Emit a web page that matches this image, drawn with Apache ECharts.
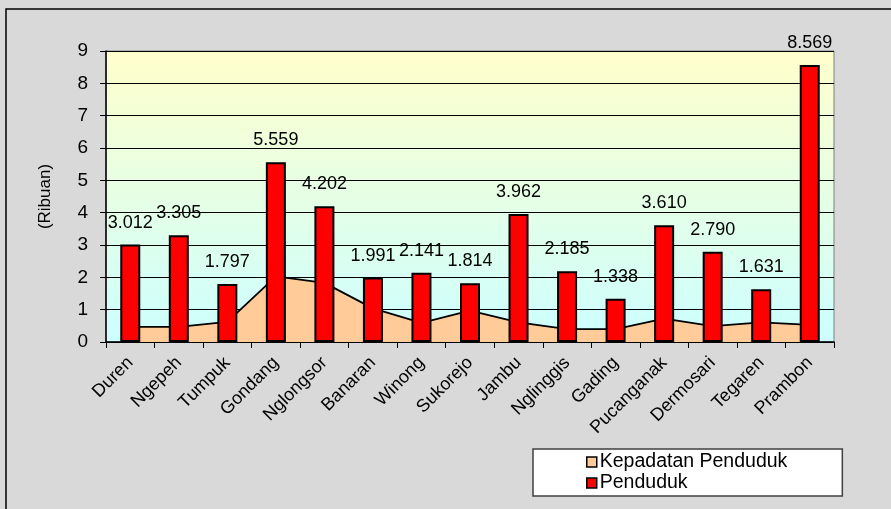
<!DOCTYPE html>
<html>
<head>
<meta charset="utf-8">
<script src="https://cdn.jsdelivr.net/npm/echarts@6/dist/echarts.min.js"></script>
<style>
    html, body { margin: 0; padding: 0; background: #d9d9d9; }
    #chart { width: 891px; height: 509px; }
</style>
</head>
<body>
<div id="chart"></div>
<script>
// kecamatan / desa
const categories = [
    "Duren", "Ngepeh", "Tumpuk", "Gondang", "Nglongsor", "Banaran", "Winong", "Sukorejo",
    "Jambu", "Nglinggis", "Gading", "Pucanganak", "Dermosari", "Tegaren", "Prambon",
]
// jumlah penduduk (ribuan)
const penduduk = [3.012, 3.305, 1.797, 5.559, 4.202, 1.991, 2.141, 1.814, 3.962, 2.185, 1.338, 3.61, 2.79, 1.631, 8.569]
// kepadatan penduduk
const kepadatan = [0.47, 0.47, 0.62, 2.03, 1.83, 1.04, 0.59, 0.97, 0.61, 0.4, 0.4, 0.72, 0.49, 0.61, 0.53]
const yTicks = { min: 0, max: 9, interval: 1 }

const font = "Liberation Sans, Arial, sans-serif"

function numFormat(v) {
    return v.toFixed(3)
}

let myChart = echarts.init(document.getElementById("chart"))
myChart.setOption({
    backgroundColor: "#d9d9d9",
    animation: false,
    textStyle: { fontFamily: font, color: "#000" },
    graphic: [
        {
            type: "rect",
            shape: { x: 6, y: 9, width: 1000, height: 600 },
            style: { fill: "none", stroke: "#000", lineWidth: 1.5 },
            silent: true,
            z: -10,
        },
    ],
    grid: {
        left: 106,
        right: 57,
        top: 51,
        bottom: 167,
        show: true,
        borderColor: "#808080",
        borderWidth: 1,
        backgroundColor: new echarts.graphic.LinearGradient(0, 0, 0, 1, [
            { offset: 0, color: "#ffffcc" },
            { offset: 1, color: "#ccffff" },
        ]),
    },
    legend: {
        orient: "vertical",
        left: 533,
        top: 449,
        padding: [3, 55, 3, 53],
        itemGap: 1,
        itemWidth: 10,
        itemHeight: 10,
        backgroundColor: "#fff",
        borderColor: "#404040",
        borderWidth: 1.5,
        borderRadius: 0,
        textStyle: { fontSize: 19.5, color: "#000", fontFamily: font, padding: [0, 0, 0, -2] },
        data: [
            {
                name: "Kepadatan Penduduk",
                icon: "rect",
                itemStyle: { color: "#ffcc99", borderColor: "#000", borderWidth: 1.5 },
            },
            {
                name: "Penduduk",
                icon: "rect",
                itemStyle: { color: "#ff0000", borderColor: "#000", borderWidth: 1.5 },
            },
        ],
    },
    xAxis: {
        type: "category",
        data: categories,
        boundaryGap: true,
        axisLine: { lineStyle: { color: "#000", width: 1.5 } },
        axisTick: { show: true, length: 6, alignWithLabel: false, lineStyle: { color: "#000" } },
        axisLabel: {
            rotate: 45,
            interval: 0,
            margin: 18,
            fontSize: 18,
            color: "#000",
            fontFamily: font,
        },
        splitLine: { show: false },
    },
    yAxis: {
        type: "value",
        min: yTicks.min,
        max: yTicks.max,
        interval: yTicks.interval,
        name: "(Ribuan)",
        nameLocation: "middle",
        nameGap: 52,
        nameTextStyle: { fontSize: 17, color: "#000", fontFamily: font },
        axisLine: { show: true, lineStyle: { color: "#000", width: 1.5 } },
        axisTick: { show: true, length: 6, lineStyle: { color: "#000" } },
        axisLabel: { fontSize: 19, color: "#000", margin: 18, fontFamily: font },
        splitLine: { show: true, lineStyle: { color: "#000", width: 1 } },
    },
    series: [
        {
            name: "Kepadatan Penduduk",
            type: "line",
            data: kepadatan,
            symbol: "none",
            z: 2,
            itemStyle: { color: "#ffcc99" },
            lineStyle: { color: "#000", width: 1.8 },
            areaStyle: { color: "#ffcc99", opacity: 1 },
        },
        {
            name: "Penduduk",
            type: "bar",
            data: penduduk,
            barWidth: 20,
            z: 3,
            itemStyle: { color: "#ff0000", borderColor: "#000", borderWidth: 2 },
            label: {
                show: true,
                position: "top",
                distance: 13,
                fontSize: 18,
                color: "#000",
                fontFamily: font,
                formatter: function (p) {
                    return numFormat(p.value)
                },
            },
        },
    ],
})
window.addEventListener("resize", function () {
    myChart.resize()
})
</script>
</body>
</html>
